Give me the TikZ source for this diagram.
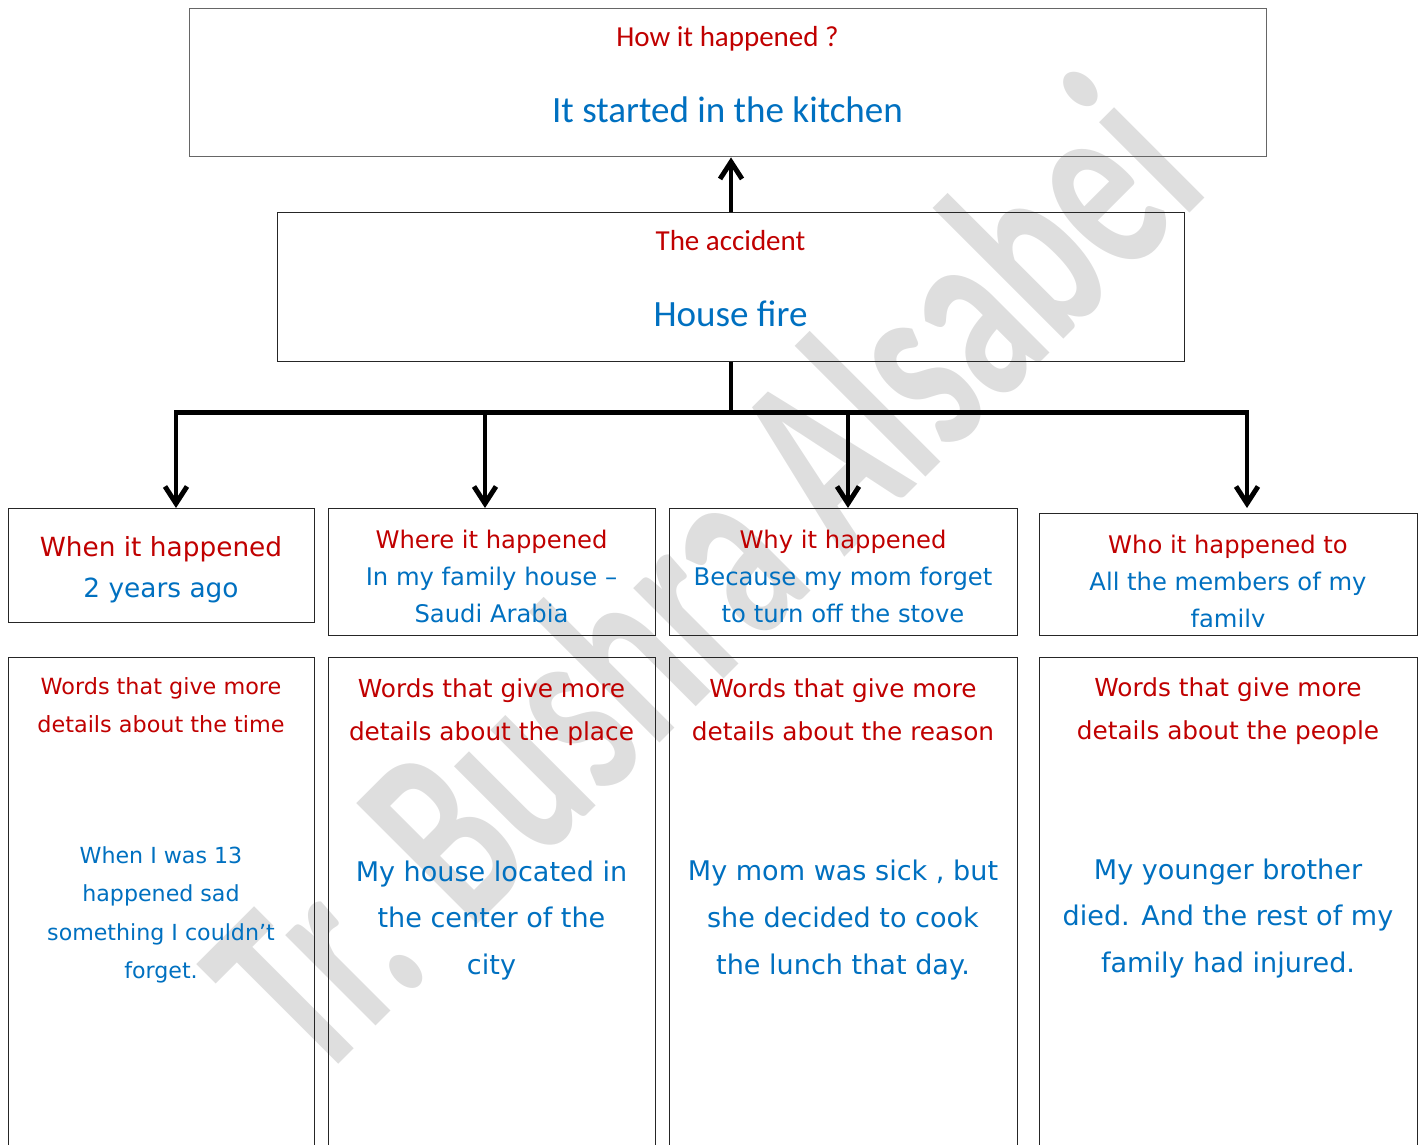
\documentclass[tikz,border=0pt]{standalone}
\usepackage{fontspec}
\setmainfont{Carlito}
\newfontfamily\comicfont{DejaVu Sans}
\usetikzlibrary{arrows.meta,calc,positioning}
\definecolor{askred}{RGB}{192,0,0}
\definecolor{tellblue}{RGB}{0,112,192}

\begin{document}
\begin{tikzpicture}[auto,>={Straight Barb[length=0.34cm,width=0.44cm]}]
	\tikzstyle{block} = [draw=black!85, rectangle, line width=0.6pt, inner sep=0pt, anchor=north west]
	\tikzstyle{wire} = [line width=2.8pt]
	\tikzstyle{ask} = [text=askred, align=center, inner sep=0pt]
	\tikzstyle{tell} = [text=tellblue, align=center, inner sep=0pt]
	\tikzstyle{midtext} = [font=\fontsize{16.5}{20}\selectfont]
	\tikzstyle{bigtext} = [font=\fontsize{21.1}{25}\selectfont]
	\tikzstyle{cardfirst} = [font=\comicfont\fontsize{15}{23.3}\selectfont]
	\tikzstyle{cardtext} = [font=\comicfont\fontsize{13.8}{21.2}\selectfont]
	\tikzstyle{wordsfirst} = [font=\comicfont\fontsize{12.7}{21.7}\selectfont]
	\tikzstyle{wordsred} = [font=\comicfont\fontsize{14.1}{24.5}\selectfont]
	\tikzstyle{wordsblue} = [font=\comicfont\fontsize{15.4}{26.7}\selectfont]

	\useasboundingbox (0,0) rectangle (28.48,-22.88);

	% watermark
	\node [rotate=45, anchor=base, inner sep=0pt, text=black!13, font=\fontsize{150}{150}\selectfont\bfseries] (mark) at (15.28,-12.77) {\scalebox{0.65}[1]{Tr. Bushra Alsabei}};

	% top boxes
	\node [block, draw=black!60, line width=0.8pt, minimum width=21.54cm, minimum height=2.96cm] (howbox) at (3.78,-0.16) {};
	\node [ask, midtext] (howq) at (14.55,-0.78) {How it happened ?};
	\node [tell, bigtext] (howa) at (14.55,-2.20) {It started in the kitchen};

	\node [block, minimum width=18.14cm, minimum height=2.98cm] (accbox) at (5.54,-4.24) {};
	\node [ask, midtext] (accq) at (14.61,-4.82) {The accident};
	\node [tell, bigtext] (acca) at (14.61,-6.28) {House fire};

	% question cards
	\node [block, minimum width=6.12cm, minimum height=2.28cm] (whenbox) at (0.16,-10.16) {};
	\node [block, minimum width=6.54cm, minimum height=2.54cm] (wherebox) at (6.56,-10.16) {};
	\node [block, minimum width=6.96cm, minimum height=2.54cm] (whybox) at (13.38,-10.16) {};
	\node [block, minimum width=7.56cm, minimum height=2.44cm] (whobox) at (20.78,-10.26) {};

	\node [ask, cardfirst] (whentext) at (3.22,-11.39) {When it happened\\\textcolor{tellblue}{2 years ago}};
	\node [ask, cardtext] (wheretext) at (9.83,-11.53) {Where it happened\\\textcolor{tellblue}{In my family house –}\\\textcolor{tellblue}{Saudi Arabia}};
	\node [ask, cardtext] (whytext) at (16.86,-11.53) {Why it happened\\\textcolor{tellblue}{Because my mom forget}\\\textcolor{tellblue}{to turn off the stove}};
	\begin{scope}
		\clip (whobox.north west) rectangle ($(whobox.south east)+(0,0.19)$);
		\node [ask, cardtext] (whotext) at (24.56,-11.68) {Who it happened to\\\textcolor{tellblue}{All the members of my}\\\textcolor{tellblue}{family}};
	\end{scope}

	% detail cards
	\node [block, minimum width=6.12cm, minimum height=10cm] (timebox) at (0.16,-13.14) {};
	\node [block, minimum width=6.54cm, minimum height=10cm] (placebox) at (6.56,-13.14) {};
	\node [block, minimum width=6.96cm, minimum height=10cm] (reasonbox) at (13.38,-13.14) {};
	\node [block, minimum width=7.56cm, minimum height=10cm] (peoplebox) at (20.78,-13.14) {};

	\node [ask, wordsfirst] (timeq) at (3.22,-14.10) {Words that give more\\details about the time};
	\node [tell, font=\comicfont\fontsize{12.6}{21.8}\selectfont] (timea) at (3.22,-18.30) {When I was 13\\happened sad\\something I couldn’t\\forget.};
	\node [ask, wordsred] (placeq) at (9.83,-14.25) {Words that give more\\details about the place};
	\node [tell, wordsblue] (placea) at (9.83,-18.41) {My house located in\\the center of the\\city};
	\node [ask, wordsred] (reasonq) at (16.86,-14.19) {Words that give more\\details about the reason};
	\node [tell, wordsblue] (reasona) at (16.86,-18.40) {My mom was sick , but\\she decided to cook\\the lunch that day.};
	\node [ask, wordsred] (peopleq) at (24.56,-14.23) {Words that give more\\details about the people};
	\node [tell, wordsblue] (peoplea) at (24.56,-18.37) {My younger brother\\died. And the rest of my\\family had injured.};

	% connectors
	\node [coordinate, below = 1.03cm of accbox] (split) {};
	\node [coordinate] (d1) at (3.52,-8.25) {};
	\node [coordinate] (d2) at (9.70,-8.25) {};
	\node [coordinate] (d3) at (16.96,-8.25) {};
	\node [coordinate] (d4) at (24.94,-8.25) {};

	\draw [wire, ->] (accbox.north) -- (accbox.north |- howbox.south);
	\draw [wire] (accbox.south) -- (split);
	\draw [wire, line cap=rect] (d1) -- (d4);
	\draw [wire, ->] (d1) -- (d1 |- whenbox.north);
	\draw [wire, ->] (d2) -- (d2 |- whenbox.north);
	\draw [wire, ->] (d3) -- (d3 |- whenbox.north);
	\draw [wire, ->] (d4) -- (d4 |- whenbox.north);

\end{tikzpicture}
\end{document}
